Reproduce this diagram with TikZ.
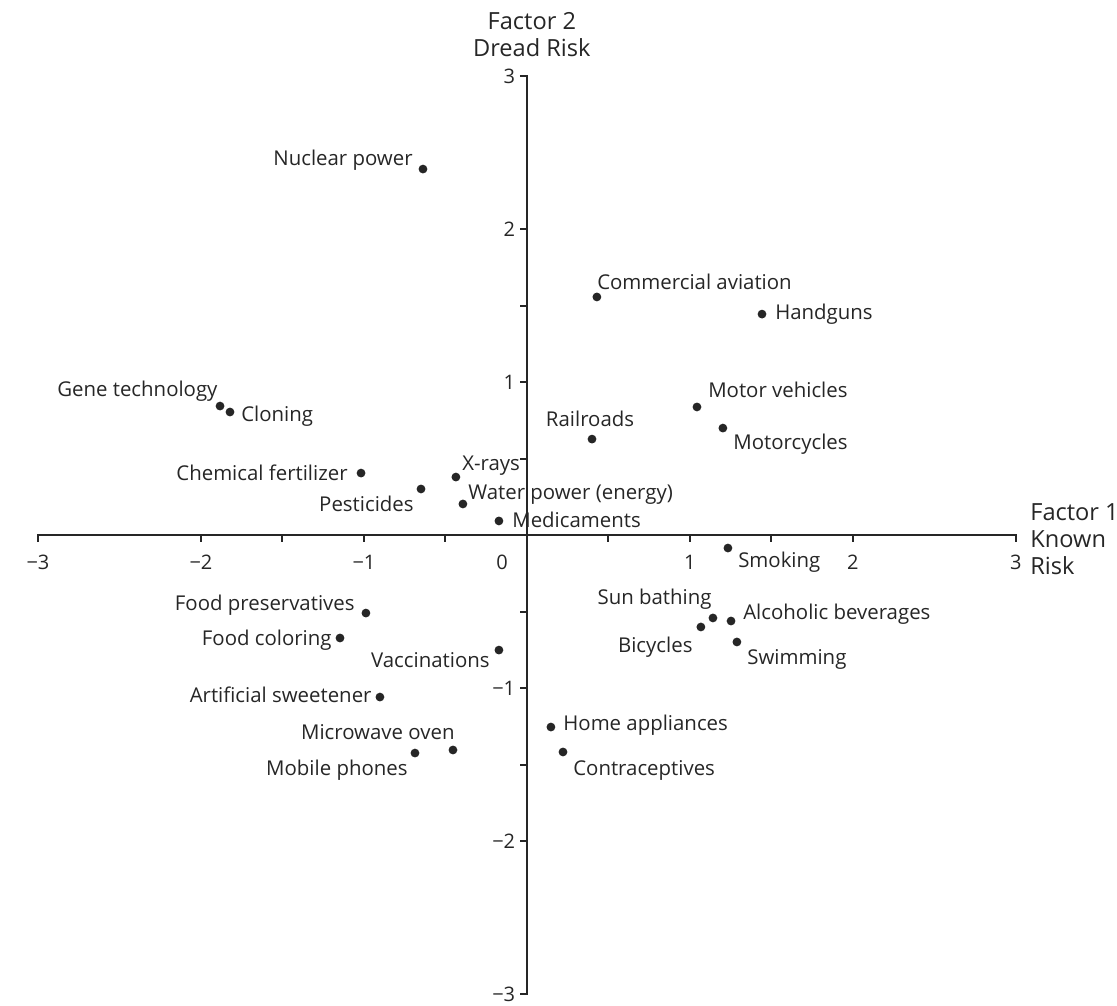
\documentclass[tikz,border=0pt]{standalone}
\usepackage{fontspec}
\setmainfont{Open Sans}
\usepackage{tikz}

\tikzset{
  axis/.style={line width=1pt, black!85},
  dot/.style={circle, fill=black!85, inner sep=0pt, minimum size=4.4pt},
  lbl/.style={font=\fontsize{10.2}{12}\selectfont, text=black!85, inner sep=0pt, text height=7.2pt, text depth=0pt},
  ticklbl/.style={font=\fontsize{10}{12}\selectfont, text=black!85, inner sep=0pt, text height=7.1pt, text depth=0pt},
  title/.style={font=\fontsize{11.8}{13.5}\selectfont, text=black!85, inner sep=0pt}
}

\begin{document}
\begin{tikzpicture}[x=81.5pt,y=76.5pt]
\useasboundingbox (-3.233,-3.078) rectangle (3.620,3.497);
% axes with end hooks
\draw[axis] (-3,-0.046) -- (-3,0) -- (3,0) -- (3,-0.046);
\draw[axis] (-0.043,3) -- (0,3) -- (0,-3) -- (-0.043,-3);
\foreach \t in {-2,-1.5,-1,-0.5,0.5,1,1.5,2} {
  \draw[axis] (\t,0) -- (\t,-0.046);
  \draw[axis] (0,\t) -- (-0.043,\t);
}
% tick labels
\foreach \t/\s in {-3/−3,-2/−2,-1/−1,1/1,2/2,3/3}
  \node[ticklbl] (xl\t) at (\t,-0.18) {\s};
\node[ticklbl] (xl0) at (-0.153,-0.18) {0};
\foreach \t/\s in {3/3,2/2,1/1,-1/−1,-2/−2,-3/−3}
  \node[ticklbl, anchor=east] (yl\t) at (-0.07,\t) {\s};
% axis titles
\node[title, align=center] (factor2) at (0.03,3.268) {Factor 2\\Dread Risk};
\node[title, align=left, anchor=west] (factor1) at (3.086,-0.026) {Factor 1\\Known\\Risk};

% risks, upper half
\node[dot] (nuclear) at (-0.638,2.392) {};
\node[lbl, anchor=east] (nuclear-l) at (-0.699,2.464) {Nuclear power};
\node[dot] (aviation) at (0.429,1.556) {};
\node[lbl, anchor=west] (aviation-l) at (0.429,1.654) {Commercial aviation};
\node[dot] (handguns) at (1.442,1.444) {};
\node[lbl, anchor=west] (handguns-l) at (1.521,1.458) {Handguns};
\node[dot] (vehicles) at (1.043,0.837) {};
\node[lbl, anchor=west] (vehicles-l) at (1.110,0.948) {Motor vehicles};
\node[dot] (railroads) at (0.399,0.627) {};
\node[lbl] (railroads-l) at (0.387,0.758) {Railroads};
\node[dot] (motorcycles) at (1.202,0.699) {};
\node[lbl, anchor=west] (motorcycles-l) at (1.264,0.608) {Motorcycles};
\node[dot] (gene) at (-1.883,0.843) {};
\node[lbl, anchor=east] (gene-l) at (-1.896,0.954) {Gene technology};
\node[dot] (cloning) at (-1.822,0.804) {};
\node[lbl, anchor=west] (cloning-l) at (-1.755,0.791) {Cloning};
\node[dot] (fertilizer) at (-1.018,0.405) {};
\node[lbl, anchor=east] (fertilizer-l) at (-1.098,0.405) {Chemical fertilizer};
\node[dot] (pesticides) at (-0.650,0.301) {};
\node[lbl, anchor=east] (pesticides-l) at (-0.693,0.203) {Pesticides};
\node[dot] (xrays) at (-0.436,0.379) {};
\node[lbl, anchor=west] (xrays-l) at (-0.399,0.471) {X-rays};
\node[dot] (water) at (-0.393,0.203) {};
\node[lbl, anchor=west] (water-l) at (-0.362,0.281) {Water power (energy)};
\node[dot] (medicaments) at (-0.172,0.092) {};
\node[lbl, anchor=west] (medicaments-l) at (-0.092,0.098) {Medicaments};

% risks, lower half
\node[dot] (smoking) at (1.233,-0.085) {};
\node[lbl, anchor=west] (smoking-l) at (1.294,-0.163) {Smoking};
\node[dot] (preservatives) at (-0.988,-0.510) {};
\node[lbl, anchor=east] (preservatives-l) at (-1.055,-0.444) {Food preservatives};
\node[dot] (coloring) at (-1.147,-0.673) {};
\node[lbl, anchor=east] (coloring-l) at (-1.196,-0.673) {Food coloring};
\node[dot] (vaccinations) at (-0.172,-0.752) {};
\node[lbl, anchor=east] (vaccinations-l) at (-0.227,-0.817) {Vaccinations};
\node[dot] (sweetener) at (-0.902,-1.059) {};
\node[lbl, anchor=east] (sweetener-l) at (-0.951,-1.046) {Artificial sweetener};
\node[dot] (microwave) at (-0.454,-1.405) {};
\node[lbl, anchor=east] (microwave-l) at (-0.442,-1.288) {Microwave oven};
\node[dot] (mobile) at (-0.687,-1.425) {};
\node[lbl, anchor=east] (mobile-l) at (-0.730,-1.523) {Mobile phones};
\node[dot] (sunbathing) at (1.141,-0.542) {};
\node[lbl, anchor=east] (sunbathing-l) at (1.135,-0.405) {Sun bathing};
\node[dot] (bicycles) at (1.067,-0.601) {};
\node[lbl, anchor=east] (bicycles-l) at (1.018,-0.719) {Bicycles};
\node[dot] (alcohol) at (1.252,-0.562) {};
\node[lbl, anchor=west] (alcohol-l) at (1.325,-0.503) {Alcoholic beverages};
\node[dot] (swimming) at (1.288,-0.699) {};
\node[lbl, anchor=west] (swimming-l) at (1.350,-0.797) {Swimming};
\node[dot] (appliances) at (0.147,-1.255) {};
\node[lbl, anchor=west] (appliances-l) at (0.221,-1.229) {Home appliances};
\node[dot] (contraceptives) at (0.221,-1.418) {};
\node[lbl, anchor=west] (contraceptives-l) at (0.282,-1.523) {Contraceptives};
\end{tikzpicture}
\end{document}
